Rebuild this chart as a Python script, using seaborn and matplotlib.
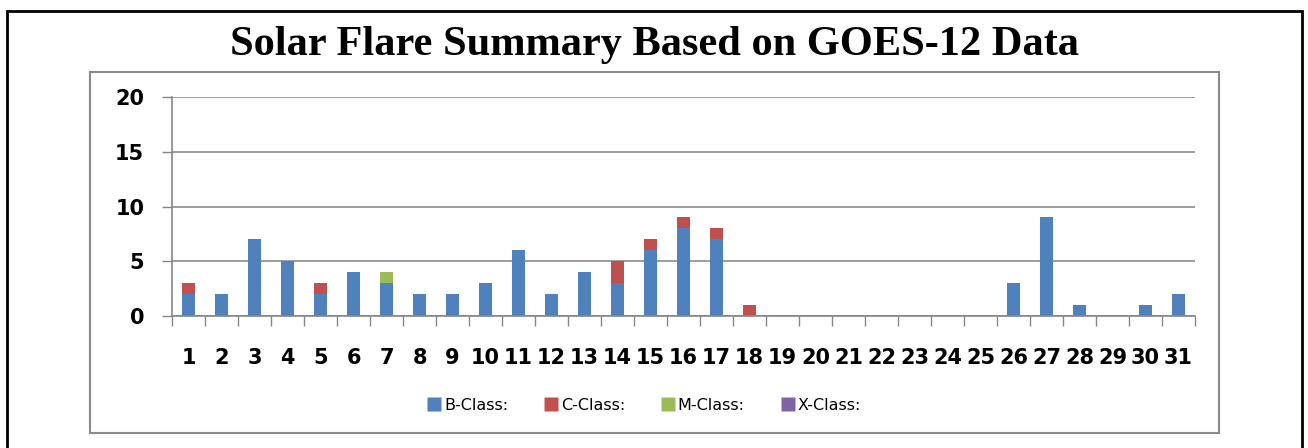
import numpy as np
import pandas as pd
import matplotlib
matplotlib.use('Agg')
import matplotlib.pyplot as plt
from matplotlib.patches import Rectangle
from matplotlib.lines import Line2D
import seaborn as sns

days = [str(d) for d in range(1, 32)]
b_class = [2, 2, 7, 5, 2, 4, 3, 2, 2, 3, 6, 2, 4, 3, 6, 8, 7, 0, 0, 0, 0, 0, 0, 0, 0, 3, 9, 1, 0, 1, 2]
c_class = [1, 0, 0, 0, 1, 0, 0, 0, 0, 0, 0, 0, 0, 2, 1, 1, 1, 1, 0, 0, 0, 0, 0, 0, 0, 0, 0, 0, 0, 0, 0]
m_class = [0, 0, 0, 0, 0, 0, 1, 0, 0, 0, 0, 0, 0, 0, 0, 0, 0, 0, 0, 0, 0, 0, 0, 0, 0, 0, 0, 0, 0, 0, 0]
x_class = [0] * 31
labels = ['B-Class:', 'C-Class:', 'M-Class:', 'X-Class:']
colors = ['#4F81BD', '#C0504D', '#9BBB59', '#8064A2']

df = pd.DataFrame({'day': days, 'B': b_class, 'C': c_class, 'M': m_class, 'X': x_class})
# cumulative tops, drawn tallest first so the stack shows through
df['B_top'] = df['B']
df['C_top'] = df['B_top'] + df['C']
df['M_top'] = df['C_top'] + df['M']
df['X_top'] = df['M_top'] + df['X']

sns.set_style('white')
plt.rcParams['text.color'] = 'black'
plt.rcParams['xtick.color'] = 'black'
plt.rcParams['ytick.color'] = 'black'

fig = plt.figure(figsize=(13.08, 4.48), dpi=100)
ax = fig.add_axes([172 / 1308, 1 - 316 / 448, (1195 - 172) / 1308, (316 - 97) / 448])

for col, c in zip(['X_top', 'M_top', 'C_top', 'B_top'], colors[::-1]):
    sns.barplot(data=df, x='day', y=col, color=c, width=0.42, ax=ax,
                saturation=1, linewidth=0, order=days)

ax.set_xlim(-0.5, 30.5)
ax.set_ylim(0, 20)
ax.set_yticks([0, 5, 10, 15, 20])
ax.yaxis.grid(True, color='#8c8c8c', lw=1.2)
ax.set_axisbelow(True)
ax.set_xlabel('')
ax.set_ylabel('')

ax.set_xticks(range(31))
ax.set_xticklabels(days)
ax.set_xticks(np.arange(-0.5, 31, 1), minor=True)
ax.tick_params(axis='x', which='major', length=0, pad=23, labelsize=15, labelcolor='black')
ax.tick_params(axis='x', which='minor', length=7, width=1, color='#868686', direction='out', bottom=True)
ax.tick_params(axis='y', length=7, width=1, color='#868686', direction='out', left=True, pad=13,
               labelsize=15, labelcolor='black')
for lab in ax.get_xticklabels() + ax.get_yticklabels():
    lab.set_fontweight('bold')

for s in ['top', 'right']:
    ax.spines[s].set_visible(False)
for s in ['left', 'bottom']:
    ax.spines[s].set_color('#868686')
    ax.spines[s].set_linewidth(1.2)

handles = [Line2D([0], [0], marker='s', color='none', markerfacecolor=c,
                  markeredgecolor='none', markersize=10) for c in colors]
fig.legend(handles, labels, loc='center', bbox_to_anchor=(0.492, 1 - 405 / 448),
           ncol=4, frameon=False, fontsize=11.5, handletextpad=0.1,
           columnspacing=2.2, handlelength=1.0, labelcolor='black')

fig.text(0.5, 1 - 45 / 448, 'Solar Flare Summary Based on GOES-12 Data',
         ha='center', va='center', fontsize=30.5, fontweight='bold',
         family='Liberation Serif', color='black')

# inner chart frame and outer page frame
fig.patches.append(Rectangle((90 / 1308, 1 - 433 / 448), (1219 - 90) / 1308, (433 - 72) / 448,
                             transform=fig.transFigure, fill=False, edgecolor='#8a8a8a', lw=1.5))
fig.patches.append(Rectangle((7 / 1308, -0.05), (1302 - 7) / 1308, 1.05 - 11 / 448,
                             transform=fig.transFigure, fill=False, edgecolor='black', lw=2))

fig.savefig('out.png', dpi=100)
